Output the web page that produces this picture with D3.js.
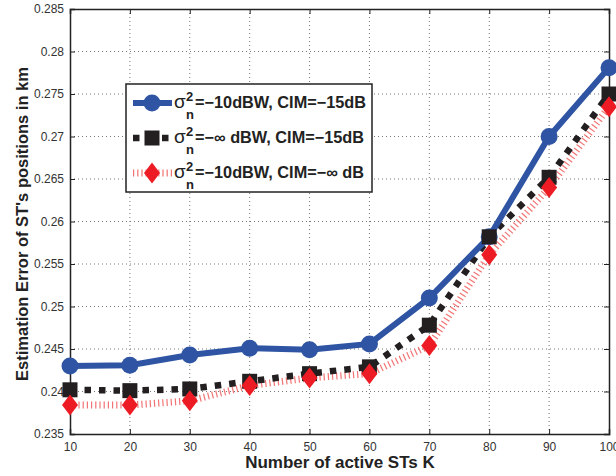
<!DOCTYPE html>
<html><head><meta charset="utf-8">
<script src="https://cdn.jsdelivr.net/npm/d3@7"></script>
<style>body{margin:0;background:#fff}svg{display:block}text{font-family:"Liberation Sans",Arial,sans-serif}</style>
</head><body>
<svg id="c" width="616" height="476"></svg>
<script>
const K = [10,20,30,40,50,60,70,80,90,100];
const blueVals = [0.2430,0.2431,0.2443,0.2451,0.2449,0.2456,0.2510,0.2582,0.2700,0.2781];
const blackVals = [0.2402,0.2401,0.2403,0.2412,0.2421,0.2429,0.2478,0.2582,0.2652,0.2750];
const redVals = [0.2384,0.2384,0.2389,0.2407,0.2416,0.2421,0.2454,0.2561,0.2640,0.2735];
const xTicks = [10,20,30,40,50,60,70,80,90,100];
const yTicks = [0.235,0.24,0.245,0.25,0.255,0.26,0.265,0.27,0.275,0.28,0.285];
const yTickLabels = ["0.235","0.24","0.245","0.25","0.255","0.26","0.265","0.27","0.275","0.28","0.285"];
const legendLabels = ["=\u221210dBW, CIM=\u221215dB","=\u2212\u221e dBW, CIM=\u221215dB","=\u221210dBW, CIM=\u2212\u221e dB"];
const xLabel = "Number of active STs K";
const yLabel = "Estimation Error of ST's positions in km";

const svg = d3.select("#c");
const L=70,R=609,T=9,B=434;
const x = d3.scaleLinear().domain([10,100]).range([L,R]);
const y = d3.scaleLinear().domain([0.235,0.285]).range([B,T]);
const BLUE="#2e54a3", BLACK="#231f20", RED="#ed1c24";

const g = svg.append("g");
xTicks.forEach(t=>{ if(t>10&&t<100) g.append("line").attr("x1",x(t)).attr("x2",x(t)).attr("y1",T).attr("y2",B).attr("stroke","#777").attr("stroke-width",1).attr("stroke-dasharray","1,3");});
yTicks.forEach(t=>{ if(t>0.235&&t<0.285) g.append("line").attr("x1",L).attr("x2",R).attr("y1",y(t)).attr("y2",y(t)).attr("stroke","#777").attr("stroke-width",1).attr("stroke-dasharray","1,3");});

const xa = svg.append("g").attr("transform",`translate(0,${B})`).call(d3.axisBottom(x).tickValues(xTicks).tickSize(-5).tickPadding(8).tickFormat(d3.format("d")));
const xt = svg.append("g").attr("transform",`translate(0,${T})`).call(d3.axisTop(x).tickValues(xTicks).tickSize(-5).tickFormat(""));
const ya = svg.append("g").attr("transform",`translate(${L},0)`).call(d3.axisLeft(y).tickValues(yTicks).tickSize(-5).tickPadding(6).tickFormat((d,i)=>yTickLabels[i]));
const yr = svg.append("g").attr("transform",`translate(${R},0)`).call(d3.axisRight(y).tickValues(yTicks).tickSize(-5).tickFormat(""));
[xa,xt,ya,yr].forEach(a=>{a.select(".domain").attr("stroke","#222").attr("stroke-width",1.5);a.selectAll(".tick line").attr("stroke","#222");a.selectAll("text").attr("font-size",12).attr("fill","#333").style("font-family","Liberation Sans, Arial");});

const line = d3.line().x((d,i)=>x(K[i])).y(d=>y(d));
svg.append("path").datum(redVals).attr("d",line).attr("fill","none").attr("stroke","#f05a5a").attr("stroke-width",7).attr("stroke-dasharray","1.2,3").attr("opacity",0.85);
svg.append("path").datum(blackVals).attr("d",line).attr("fill","none").attr("stroke",BLACK).attr("stroke-width",6.5).attr("stroke-dasharray","6.5,8");
svg.append("path").datum(blueVals).attr("d",line).attr("fill","none").attr("stroke",BLUE).attr("stroke-width",6);

svg.selectAll(".bc").data(blueVals).join("circle").attr("cx",(d,i)=>x(K[i])).attr("cy",d=>y(d)).attr("r",8.5).attr("fill",BLUE);
svg.selectAll(".bs").data(blackVals).join("rect").attr("x",(d,i)=>x(K[i])-7.5).attr("y",d=>y(d)-7.5).attr("width",15).attr("height",15).attr("fill",BLACK);
const diamond = (cx,cy)=>`M${cx},${cy-10.5}L${cx+8},${cy}L${cx},${cy+10.5}L${cx-8},${cy}Z`;
svg.selectAll(".rd").data(redVals).join("path").attr("d",(d,i)=>diamond(x(K[i]),y(d))).attr("fill",RED);

const lg = svg.append("g");
lg.append("rect").attr("x",126).attr("y",84).attr("width",246).attr("height",108).attr("fill","#fff").attr("stroke","#222").attr("stroke-width",1.5);
const rows=[103,138,173];
lg.append("line").attr("x1",133).attr("x2",172).attr("y1",rows[0]).attr("y2",rows[0]).attr("stroke",BLUE).attr("stroke-width",6);
lg.append("circle").attr("cx",152).attr("cy",rows[0]).attr("r",8.5).attr("fill",BLUE);
lg.append("line").attr("x1",133).attr("x2",172).attr("y1",rows[1]).attr("y2",rows[1]).attr("stroke",BLACK).attr("stroke-width",6.5).attr("stroke-dasharray","6.5,8");
lg.append("rect").attr("x",144.5).attr("y",rows[1]-7.5).attr("width",15).attr("height",15).attr("fill",BLACK);
lg.append("line").attr("x1",133).attr("x2",172).attr("y1",rows[2]).attr("y2",rows[2]).attr("stroke","#f05a5a").attr("stroke-width",7).attr("stroke-dasharray","1.2,3").attr("opacity",0.85);
lg.append("path").attr("d",diamond(152,rows[2])).attr("fill",RED);
legendLabels.forEach((lab,i)=>{
  const ty = rows[i]+5;
  lg.append("text").attr("x",174).attr("y",ty).attr("font-size",19).attr("fill","#222").text("\u03c3");
  lg.append("text").attr("x",186).attr("y",ty-7).attr("font-size",13).attr("font-weight","bold").attr("fill","#222").text("2");
  lg.append("text").attr("x",186).attr("y",ty+11).attr("font-size",13).attr("font-weight","bold").attr("fill","#222").text("n");
  lg.append("text").attr("x",195).attr("y",ty).attr("font-size",16.3).attr("font-weight","bold").attr("fill","#222").text(lab);
});

svg.append("text").attr("x",340).attr("y",468).attr("text-anchor","middle").attr("font-size",17).attr("font-weight","bold").attr("fill","#222").text(xLabel);
svg.append("text").attr("transform","translate(28,224) rotate(-90)").attr("text-anchor","middle").attr("font-size",16.5).attr("font-weight","bold").attr("fill","#222").text(yLabel);
</script>
</body></html>
